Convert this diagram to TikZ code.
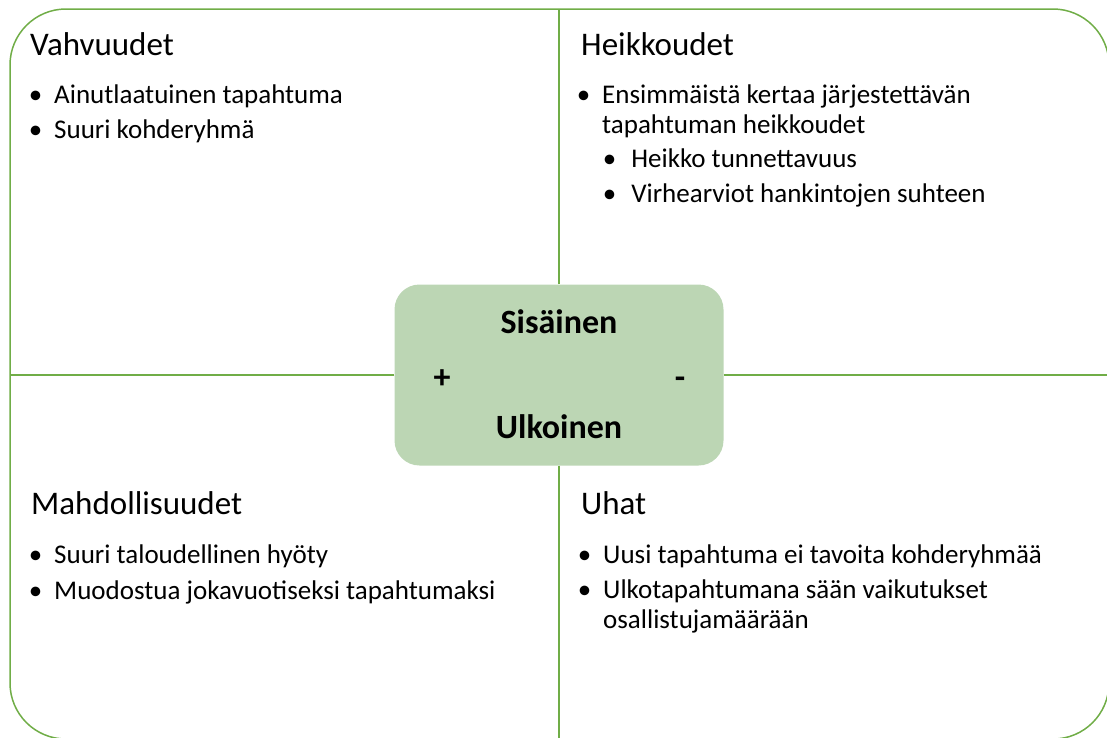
\documentclass[tikz,border=0pt]{standalone}
\usepackage{fontspec}
\setmainfont{Carlito}
\usetikzlibrary{positioning}
\definecolor{swotgreen}{RGB}{112,173,71}
\definecolor{boxgreen}{RGB}{188,214,180}
\tikzset{
  title/.style={anchor=base west, inner sep=0pt, font=\fontsize{33}{38}\selectfont},
  item/.style={anchor=base west, inner sep=0pt, align=left, font=\fontsize{27}{30}\selectfont},
  midtext/.style={anchor=base, inner sep=0pt, font=\bfseries\fontsize{34}{38}\selectfont},
  divider/.style={swotgreen, line width=1.5pt}
}
\newcommand{\bul}[1][12pt]{\llap{\textbullet\hspace{#1}}}

\begin{document}
\begin{tikzpicture}[x=1pt, y=-1pt]
        \useasboundingbox (0,0) rectangle (1107,737);
        \clip (0,0) rectangle (1107,737);
        \draw[divider, rounded corners=56pt] (10,9) rectangle (1109,739);
        \coordinate (top) at (559,9);
        \coordinate (bottom) at (559,739);
        \coordinate (left) at (10,375);
        \coordinate (right) at (1109,375);
        \node[fill=boxgreen, rounded corners=25pt, minimum width=329pt, minimum height=181pt, inner sep=0pt] (swot) at (559,375) {};
        \draw[divider] (swot.north) -- (top);
        \draw[divider] (swot.south) -- (bottom);
        \draw[divider] (swot.west) -- (left);
        \draw[divider] (swot.east) -- (right);
        % keskikentta
        \node[midtext] (sis) at (559,333) {Sisäinen};
        \node[midtext] (ulk) at (559,438) {Ulkoinen};
        \node[midtext] (plus) at (442,388) {+};
        \node[midtext] (minus) at (680,388) {-};
        % vahvuudet
        \node[title] (vahv) at (30,55) {Vahvuudet};
        \node[item] (vahv1) at (54,103) {\bul Ainutlaatuinen tapahtuma};
        \node[item] (vahv2) at (54,138) {\bul Suuri kohderyhmä};
        % heikkoudet (monirivinen solmu: base = viimeinen rivi)
        \node[title] (heik) at (581,55) {Heikkoudet};
        \node[item] (heik1) at (602,133) {\bul Ensimmäistä kertaa järjestettävän\\tapahtuman heikkoudet};
        \node[item] (heik2) at (625,167) {\bul[9pt] Heikko tunnettavuus};
        \node[item] (heik3) at (625,202) {\bul[9pt] Virhearviot hankintojen suhteen};
        % mahdollisuudet
        \node[title] (mahd) at (31,514) {Mahdollisuudet};
        \node[item] (mahd1) at (54,563) {\bul Suuri taloudellinen hyöty};
        \node[item] (mahd2) at (54,599) {\bul Muodostua jokavuotiseksi tapahtumaksi};
        % uhat
        \node[title] (uhat) at (581,514) {Uhat};
        \node[item] (uhat1) at (603,563) {\bul Uusi tapahtuma ei tavoita kohderyhmää};
        \node[item] (uhat2) at (603,628) {\bul Ulkotapahtumana sään vaikutukset\\osallistujamäärään};
    \end{tikzpicture}
\end{document}
